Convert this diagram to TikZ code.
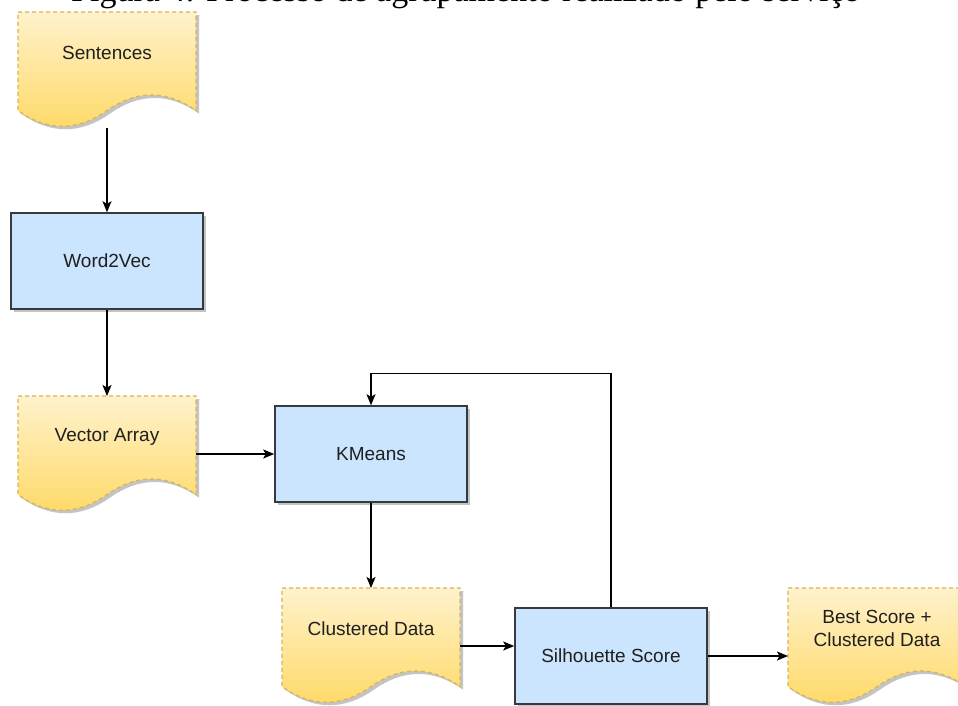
\documentclass[tikz,border=0pt]{standalone}
\usepackage{fontspec}
\setmainfont{Liberation Sans}
\newfontfamily\capfont{Liberation Serif}
\usetikzlibrary{arrows.meta,calc,shadows}

\definecolor{docTop}{HTML}{FFF2CC}
\definecolor{docBot}{HTML}{FFD966}
\definecolor{docLine}{HTML}{D6B656}
\definecolor{boxFill}{HTML}{CCE5FF}
\definecolor{boxLine}{HTML}{36393D}
\definecolor{shadeGray}{HTML}{C4C4C4}
\definecolor{ink}{HTML}{1F1F1F}

% outline of a "document" shape (178 x 116) with a wavy bottom edge
\newcommand\docpath[1]{(#1.north west) -- (#1.north east) -- ([shift={(0,17.4)}]#1.south east)
  .. controls ([shift={(148.33,38.28)}]#1.south west) and ([shift={(118.67,38.28)}]#1.south west) .. ([shift={(89,17.4)}]#1.south west)
  .. controls ([shift={(59.33,-3.48)}]#1.south west) and ([shift={(29.67,-3.48)}]#1.south west) .. ([shift={(0,17.4)}]#1.south west) -- cycle}

\begin{document}
\begin{tikzpicture}[x=1pt,y=1pt,
  procbox/.style={draw=boxLine, fill=boxFill, line width=1.5pt,
    minimum width=192pt, minimum height=96pt, inner sep=0pt,
    font=\fontsize{19}{23}\selectfont, text=ink,
    drop shadow={shadow xshift=2.5pt, shadow yshift=-2.5pt, fill=shadeGray, opacity=1}},
  docframe/.style={minimum width=178pt, minimum height=116pt, inner sep=0pt, outer sep=0pt},
  doctext/.style={font=\fontsize{19}{23}\selectfont, text=ink, align=center, inner sep=0pt},
  flow/.style={draw=black, line width=1.5pt, -{Stealth[length=11pt,width=9pt,inset=2.5pt]}},
]
\useasboundingbox (0,0) rectangle (958,-705);
\clip (0,0) rectangle (958,-705);
\fill[white] (0,0) rectangle (958,-705);

% caption line, cut by the top edge
\node[anchor=base west, inner sep=0pt, font=\capfont\fontsize{34}{40}\selectfont, text=black]
  (caption) at (71,-1.2) {Figura 4: Processo de agrupamento realizado pelo serviço};

% document shapes
\node[docframe] (sent) at (107,-70) {};
\node[docframe] (vec)  at (107,-454) {};
\node[docframe] (clu)  at (371,-646) {};
\node[docframe] (best) at (877,-646) {};
\foreach \d in {sent,vec,clu,best}{
  \fill[shadeGray, transform canvas={shift={(3pt,-3pt)}}] \docpath{\d};
  \shade[top color=docTop, bottom color=docBot] \docpath{\d};
  \draw[docLine, line width=1.2pt, dash pattern=on 4pt off 3pt] \docpath{\d};
}
\node[doctext] (sentlbl) at ($(sent.north)+(0,-40.6)$) {Sentences};
\node[doctext] (veclbl)  at ($(vec.north)+(0,-40.6)$)  {Vector Array};
\node[doctext] (clulbl)  at ($(clu.north)+(0,-40.6)$)  {Clustered Data};
\node[doctext] (bestlbl) at ($(best.north)+(0,-40.6)$) {Best Score +\\Clustered Data};

% process boxes
\node[procbox] (w2v) at (107,-261) {Word2Vec};
\node[procbox] (km)  at (371,-454) {KMeans};
\node[procbox] (sil) at (611,-656) {Silhouette Score};

% connectors
\draw[flow] (sent.south) -- (w2v.north);
\draw[flow] (w2v.south) -- (vec.north);
\draw[flow] (vec.east) -- (km.west);
\draw[flow] (km.south) -- (clu.north);
\draw[flow] (clu.east) -- (clu.east -| sil.west);
\draw[flow] (sil.east) -- (sil.east -| best.west);
\coordinate (loopturn) at ($(km.north)+(0,32)$);
\draw[flow] (sil.north) |- (loopturn) -- (km.north);
\end{tikzpicture}
\end{document}
